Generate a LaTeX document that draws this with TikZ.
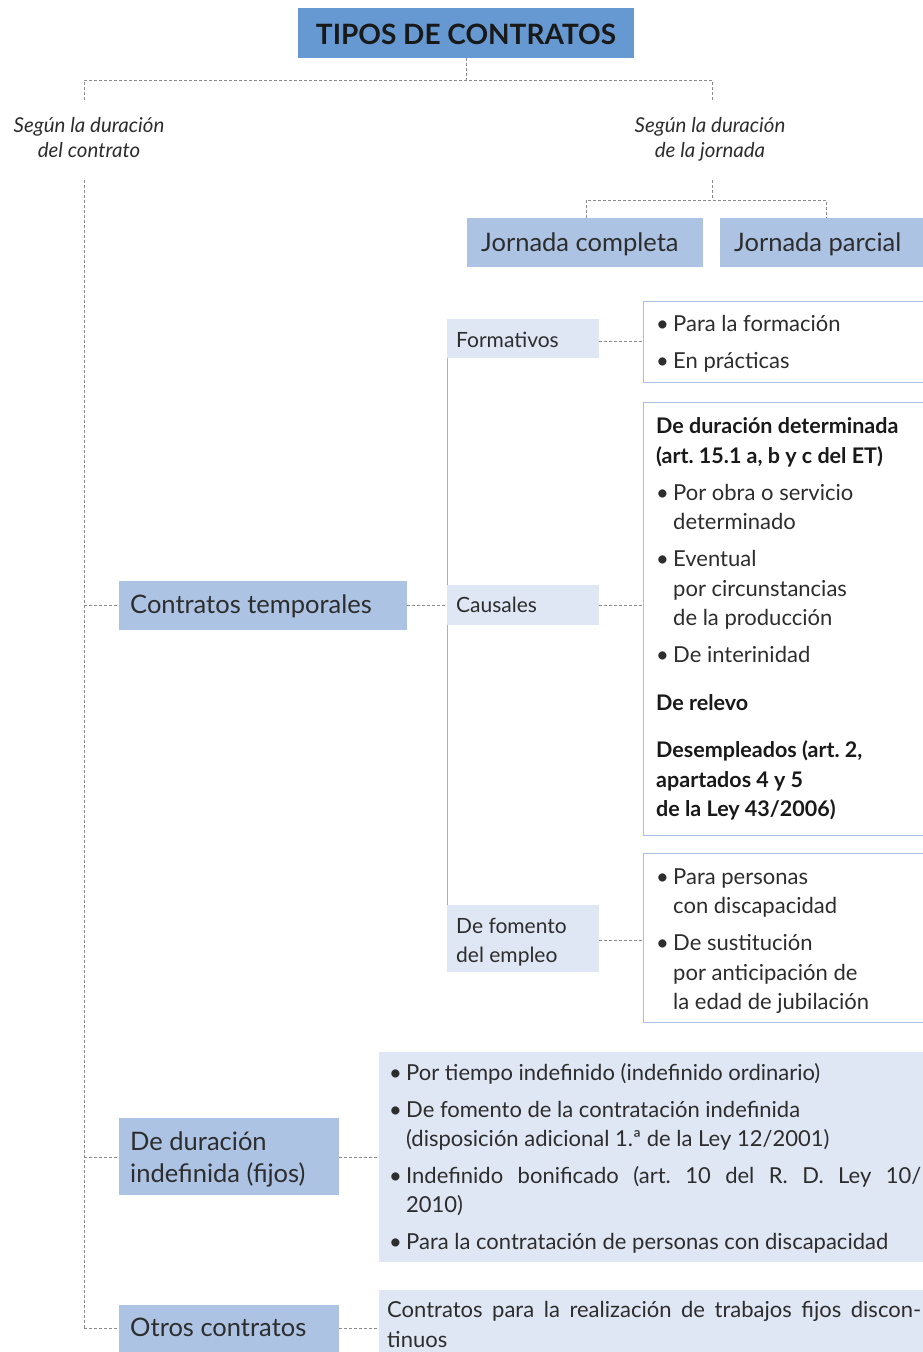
\documentclass[tikz,border=0pt]{standalone}
\usepackage{fontspec}
\setmainfont{Lato}
\definecolor{titleblue}{RGB}{102,153,210}
\definecolor{midblue}{RGB}{172,195,228}
\definecolor{lightblue}{RGB}{223,230,244}
\definecolor{outl}{RGB}{170,192,225}
\definecolor{dashgray}{RGB}{140,140,140}
\definecolor{txtgray}{RGB}{45,45,45}
\newcommand{\bul}{\makebox[17pt][l]{\textbullet}}
\frenchspacing
\tikzset{
  conn/.style={draw=dashgray, densely dashed, line width=0.7pt},
  solidconn/.style={draw=dashgray!70, line width=0.8pt},
  bigtxt/.style={font=\fontsize{25.5}{30}\selectfont, text=txtgray, inner sep=0pt, anchor=mid west, yshift=-6pt},
  medtxt/.style={font=\fontsize{21}{26}\selectfont, text=txtgray, inner sep=0pt, anchor=mid west, yshift=-5pt},
  itxt/.style={font=\fontsize{20.5}{25}\selectfont\itshape, text=txtgray, inner sep=0pt, anchor=mid, yshift=-4pt},
  lst/.style={font=\fontsize{22}{26}\selectfont, text=txtgray, inner sep=0pt, anchor=mid west, yshift=-5pt},
  lstb/.style={font=\fontsize{21.5}{26}\selectfont\bfseries, text=black!90, inner sep=0pt, anchor=mid west, yshift=-5pt},
  outbox/.style={draw=outl, line width=0.9pt, fill=white},
}
\begin{document}
\begin{tikzpicture}[x=1pt,y=-1pt]
\useasboundingbox (0,0) rectangle (922,1352);
% ---------- title ----------
\fill[titleblue] (298,8) rectangle (634,58);
\node[font=\fontsize{28}{32}\selectfont\bfseries, text=black!90, inner sep=0pt, anchor=center] (title) at (466,34) {TIPOS DE CONTRATOS};
\coordinate (tb) at (466,58);
\coordinate (tj) at (466,80);
\coordinate (lA) at (84,80);
\coordinate (lB) at (84,100);
\coordinate (rA) at (712,80);
\coordinate (rB) at (712,100);
\draw[conn] (tb) -- (tj) (lB) -- (lA) -- (rA) -- (rB);
% ---------- criteria ----------
\node[itxt] (c1a) at (89,126) {Según la duración};
\node[itxt] (c1b) at (89,151) {del contrato};
\node[itxt] (c2a) at (710,126) {Según la duración};
\node[itxt] (c2b) at (710,151) {de la jornada};
% ---------- jornada ----------
\fill[midblue] (467,218) rectangle (703,267);
\fill[midblue] (720,218) rectangle (930,267);
\node[bigtxt] (jc) at (481,243) {Jornada completa};
\node[bigtxt] (jp) at (734,243) {Jornada parcial};
\coordinate (j0) at (712,180);
\coordinate (j1) at (712,200);
\coordinate (j2) at (586,200);
\coordinate (j3) at (586,218);
\coordinate (j4) at (826,200);
\coordinate (j5) at (826,218);
\draw[conn] (j0) -- (j1) (j3) -- (j2) -- (j4) -- (j5);
% ---------- left trunk ----------
\coordinate (t0) at (84,180);
\coordinate (t1) at (84,605);
\coordinate (t2) at (84,1157);
\coordinate (t3) at (84,1328);
\draw[conn] (t0) -- (t3);
% ---------- contratos temporales ----------
\fill[midblue] (119,581) rectangle (407,630);
\node[bigtxt] (ct) at (130,605) {Contratos temporales};
\coordinate (ctr) at (407,605);
\coordinate (ctl) at (119,605);
\coordinate (sp) at (447,605);
\draw[conn] (t1) -- (ctl);
\draw[conn] (ctr) -- (sp);
% sub spine
\coordinate (s0) at (447,319);
\coordinate (s1) at (447,972);
\draw[solidconn] (s0) -- (s1);
% sub boxes
\fill[lightblue] (447,319) rectangle (599,358);
\fill[lightblue] (447,585) rectangle (599,625);
\fill[lightblue] (447,905) rectangle (599,972);
\node[medtxt] (fo) at (456,340) {Formativos};
\node[medtxt] (ca) at (456,605) {Causales};
\node[medtxt] (fe1) at (456,926) {De fomento};
\node[medtxt] (fe2) at (456,955) {del empleo};
\coordinate (fo1) at (599,341);
\coordinate (fo2) at (643,341);
\coordinate (ca1) at (599,605);
\coordinate (ca2) at (643,605);
\coordinate (fe3) at (599,940);
\coordinate (fe4) at (643,940);
\draw[conn] (fo1) -- (fo2) (ca1) -- (ca2) (fe3) -- (fe4);
% outlined boxes
\draw[outbox] (643,301) rectangle (935,382);
\draw[outbox] (643,402) rectangle (935,835);
\draw[outbox] (643,853) rectangle (935,1022);
% box 1
\node[lst] (b1a) at (656,324) {\bul Para la formación};
\node[lst] (b1b) at (656,361) {\bul En prácticas};
% box 2
\node[lstb] (b2a) at (656,426) {De duración determinada};
\node[lstb] (b2b) at (656,456) {(art. 15.1 a, b y c del ET)};
\node[lst] (b2c) at (656,493) {\bul Por obra o servicio};
\node[lst] (b2d) at (673,522) {determinado};
\node[lst] (b2e) at (656,559) {\bul Eventual};
\node[lst] (b2f) at (673,589) {por circunstancias};
\node[lst] (b2g) at (673,618) {de la producción};
\node[lst] (b2h) at (656,655) {\bul De interinidad};
\node[lstb] (b2i) at (656,703) {De relevo};
\node[lstb] (b2j) at (656,750) {Desempleados (art. 2,};
\node[lstb] (b2k) at (656,780) {apartados 4 y 5};
\node[lstb] (b2l) at (656,809) {de la Ley 43/2006)};
% box 3
\node[lst] (b3a) at (656,877) {\bul Para personas};
\node[lst] (b3b) at (673,906) {con discapacidad};
\node[lst] (b3c) at (656,943) {\bul De sustitución};
\node[lst] (b3d) at (673,973) {por anticipación de};
\node[lst] (b3e) at (673,1002) {la edad de jubilación};
% ---------- indefinida ----------
\fill[midblue] (119,1118) rectangle (339,1195);
\node[bigtxt] (di1) at (130,1142) {De duración};
\node[bigtxt] (di2) at (130,1174) {indefinida (fijos)};
\coordinate (dil) at (119,1157);
\coordinate (dir) at (339,1157);
\coordinate (dbx) at (379,1157);
\draw[conn] (t2) -- (dil);
\draw[conn] (dir) -- (dbx);
\fill[lightblue] (379,1052) rectangle (930,1262);
\node[lst] (i1) at (389,1073) {\bul Por tiempo indefinido (indefinido ordinario)};
\node[lst] (i2) at (389,1110) {\bul De fomento de la contratación indefinida};
\node[lst] (i3) at (406,1139) {(disposición adicional 1.ª de la Ley 12/2001)};
\node[lst] (i4) at (389,1176) {\makebox[532pt][s]{\bul Indefinido bonificado (art.\ 10 del R.\ D.\ Ley 10/}};
\node[lst] (i5) at (406,1205) {2010)};
\node[lst] (i6) at (389,1242) {\bul Para la contratación de personas con discapacidad};
% ---------- otros ----------
\fill[midblue] (119,1305) rectangle (339,1352);
\node[bigtxt] (ot) at (130,1328) {Otros contratos};
\coordinate (otl) at (119,1328);
\coordinate (otr) at (339,1328);
\coordinate (obx) at (379,1328);
\draw[conn] (t3) -- (otl);
\draw[conn] (otr) -- (obx);
\fill[lightblue] (379,1290) rectangle (930,1360);
\node[lst] (o1) at (387,1310) {\makebox[534pt][s]{Contratos para la realización de trabajos fijos discon-}};
\node[lst] (o2) at (387,1340) {tinuos};
\end{tikzpicture}
\end{document}
